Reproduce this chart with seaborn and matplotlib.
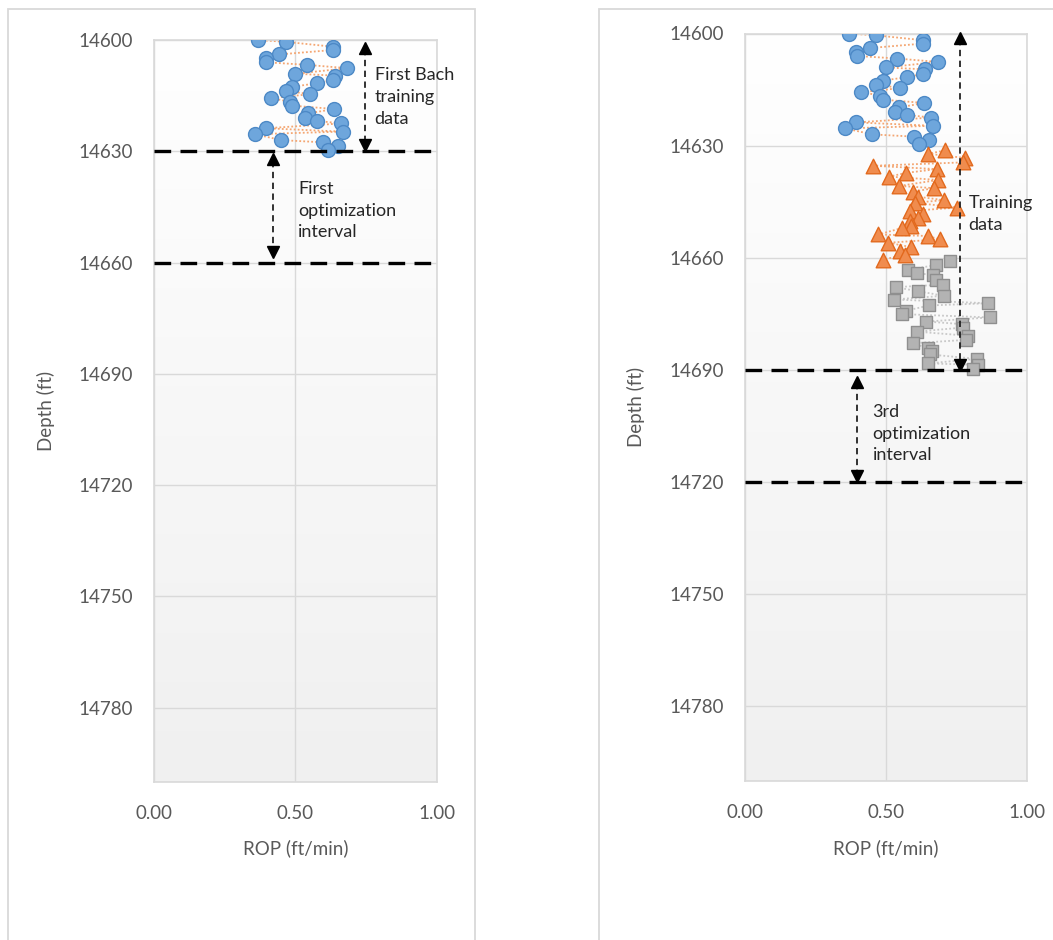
import matplotlib
matplotlib.use('Agg')
import matplotlib.pyplot as plt
import seaborn as sns
import pandas as pd
import numpy as np
from matplotlib.patches import Rectangle
from matplotlib.ticker import FormatStrFormatter

# Bach training data (blue circles), shown on both charts
bach_depth = [14600.0, 14600.5, 14601.8, 14602.7, 14603.9, 14604.9, 14606.0, 14606.7,
              14607.6, 14609.1, 14609.6, 14610.8, 14611.7, 14612.6, 14613.7, 14614.6,
              14615.7, 14616.6, 14617.7, 14618.6, 14619.8, 14621.0, 14621.8, 14622.5,
              14623.8, 14624.7, 14625.4, 14627.0, 14627.6, 14628.5, 14629.7]
bach_rop = [0.368, 0.466, 0.632, 0.632, 0.442, 0.395, 0.397, 0.540,
            0.684, 0.500, 0.640, 0.632, 0.575, 0.489, 0.466, 0.552,
            0.413, 0.480, 0.489, 0.637, 0.546, 0.534, 0.575, 0.662,
            0.395, 0.668, 0.356, 0.451, 0.599, 0.652, 0.617]

# second interval (orange triangles)
int2_depth = [14631.3, 14632.2, 14633.3, 14634.5, 14635.4, 14636.3, 14637.3, 14638.3,
              14639.2, 14640.8, 14641.4, 14642.3, 14643.7, 14644.6, 14645.3, 14646.6,
              14647.5, 14648.4, 14649.4, 14650.2, 14651.5, 14652.1, 14653.8, 14654.2,
              14655.1, 14656.0, 14657.2, 14658.2, 14659.3, 14660.5]
int2_rop = [0.709, 0.651, 0.780, 0.774, 0.455, 0.680, 0.573, 0.512,
            0.686, 0.547, 0.671, 0.597, 0.615, 0.706, 0.603, 0.753,
            0.585, 0.632, 0.615, 0.585, 0.591, 0.556, 0.473, 0.650,
            0.691, 0.508, 0.591, 0.550, 0.567, 0.490]

# third interval (gray squares)
int3_depth = [14660.9, 14662.0, 14663.2, 14664.1, 14664.7, 14665.9, 14667.2, 14667.9,
              14669.0, 14670.2, 14671.2, 14672.2, 14672.8, 14674.2, 14675.1, 14676.0,
              14677.1, 14677.8, 14678.7, 14679.8, 14680.9, 14682.0, 14682.9, 14684.3,
              14685.0, 14685.9, 14687.1, 14688.3, 14688.7, 14689.8]
int3_rop = [0.729, 0.677, 0.579, 0.609, 0.668, 0.677, 0.703, 0.535,
            0.615, 0.706, 0.528, 0.863, 0.654, 0.571, 0.556, 0.869,
            0.644, 0.772, 0.774, 0.609, 0.792, 0.786, 0.597, 0.650,
            0.665, 0.656, 0.822, 0.650, 0.827, 0.810]

depth_ticks = [14600, 14630, 14660, 14690, 14720, 14750, 14780]
rop_ticks = [0.0, 0.5, 1.0]

FONT = ['Lato', 'DejaVu Sans']
GRID = '#d9d9d9'
TICK_COLOR = '#595959'


def background(ax):
    """Dégradé blanc -> gris clair dans la zone de tracé."""
    grad = np.linspace(1.0, 0.0, 256).reshape(-1, 1)
    cmap = matplotlib.colors.LinearSegmentedColormap.from_list('bg', ['#f0f0f0', '#ffffff'])
    ax.imshow(grad, cmap=cmap, aspect='auto', extent=[0, 1, 0, 1],
              transform=ax.transAxes, zorder=-10, origin='upper')


def series(ax, depth, rop, marker, face, edge, line_color, size):
    df = pd.DataFrame({'ROP': rop, 'Depth': depth})
    sns.lineplot(data=df, x='ROP', y='Depth', sort=False, estimator=None, ax=ax,
                 color=line_color, lw=1.3, linestyle=(0, (1, 1.2)), zorder=2)
    sns.scatterplot(data=df, x='ROP', y='Depth', ax=ax, marker=marker, s=size,
                    color=face, edgecolor=edge, linewidth=1.0, zorder=3)


def style_axes(ax):
    ax.set_xlim(0, 1)
    ax.set_ylim(14800, 14600)
    ax.set_xticks(rop_ticks)
    ax.set_yticks(depth_ticks)
    ax.xaxis.set_major_formatter(FormatStrFormatter('%.2f'))
    ax.set_facecolor('none')
    ax.grid(True, color=GRID, lw=1.0, zorder=0)
    ax.set_axisbelow(True)
    for sp in ax.spines.values():
        sp.set_color(GRID)
        sp.set_linewidth(1.2)
        sp.set_visible(True)
    ax.tick_params(axis='both', length=0, labelsize=13.5, colors=TICK_COLOR)
    ax.tick_params(axis='x', pad=17)
    ax.tick_params(axis='y', pad=15)
    ax.set_xlabel('ROP (ft/min)', fontsize=13.5, color=TICK_COLOR)
    ax.set_ylabel('Depth (ft)', fontsize=13.5, color=TICK_COLOR)
    ax.xaxis.set_label_coords(0.5, -0.078)


def dashed_limit(ax, depth):
    ax.axhline(depth, color='black', lw=2.4, linestyle=(0, (5, 2.8)), zorder=4)


def span_arrow(ax, x, top, bottom, text, tx, ty):
    ax.plot([x, x], [top + 1.5, bottom - 1.5], color='#222222', lw=1.3,
            linestyle=(0, (3.5, 2.5)), zorder=5)
    ax.plot([x], [top + 1.2], marker='^', ms=9, color='black', zorder=6, clip_on=False)
    ax.plot([x], [bottom - 1.2], marker='v', ms=9, color='black', zorder=6, clip_on=False)
    ax.text(tx, ty, text, fontsize=13, color='#262626', va='center', ha='left',
            linespacing=1.45, zorder=6)


sns.set_theme(style='white')
plt.rcParams['font.family'] = FONT

fig = plt.figure(figsize=(10.53, 9.40), dpi=100)
fig.patch.set_facecolor('white')

# cadres des deux graphiques
fig.patches.append(Rectangle((8 / 1053, -0.02), 467 / 1053, 1.02 - 9.5 / 940,
                             transform=fig.transFigure, fill=False, ec=GRID, lw=1.3))
fig.patches.append(Rectangle((599 / 1053, -0.02), 0.45, 1.02 - 9.5 / 940,
                             transform=fig.transFigure, fill=False, ec=GRID, lw=1.3))

ax1 = fig.add_axes([154 / 1053, 1 - 781.7 / 940, 282.7 / 1053, 741.7 / 940])
ax2 = fig.add_axes([745 / 1053, 1 - 780.7 / 940, 281.7 / 1053, 747.2 / 940])

for ax in (ax1, ax2):
    background(ax)

blue = ('o', '#6ea6dc', '#4d89c6', '#f4a672', 100)
orange = ('^', '#f08c4e', '#e2691d', '#f4a672', 110)
gray = ('s', '#b3b3b3', '#8f8f8f', '#c8c8c8', 85)

series(ax1, bach_depth, bach_rop, *blue)
series(ax2, bach_depth, bach_rop, *blue)
series(ax2, int2_depth, int2_rop, *orange)
series(ax2, int3_depth, int3_rop, *gray)

for ax in (ax1, ax2):
    style_axes(ax)

ax1.yaxis.set_label_coords(-0.35, 0.5)
ax2.yaxis.set_label_coords(-0.355, 0.5)

dashed_limit(ax1, 14630)
dashed_limit(ax1, 14660)
dashed_limit(ax2, 14690)
dashed_limit(ax2, 14720)

span_arrow(ax1, 0.746, 14600.9, 14629.4, 'First Bach\ntraining\ndata', 0.78, 14615.4)
span_arrow(ax1, 0.42, 14631.0, 14658.4, 'First\noptimization\ninterval', 0.51, 14646.0)
span_arrow(ax2, 0.763, 14600.0, 14690.0, 'Training\ndata', 0.793, 14648.4)
span_arrow(ax2, 0.399, 14692.1, 14719.6, '3rd\noptimization\ninterval', 0.453, 14707.1)

fig.savefig('out.png', dpi=100, facecolor='white')
